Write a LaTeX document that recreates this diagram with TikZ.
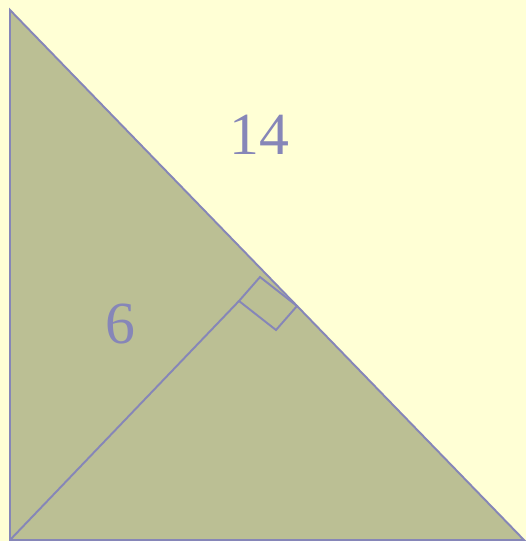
\documentclass[tikz,border=0pt]{standalone}
\usepackage{fontspec}
\setmainfont{Liberation Serif}
\definecolor{bgcolor}{RGB}{255, 255, 213}
\definecolor{trifill}{RGB}{187, 191, 148}
\definecolor{linecolor}{RGB}{134, 134, 184}

\begin{document}
\begin{tikzpicture}[x=0.02cm, y=-0.02cm,
    edge/.style={draw=linecolor, line width=1.1pt, line join=miter},
    lbl/.style={text=linecolor, font=\fontsize{34}{34}\selectfont, inner sep=0pt}]
    % Fond
    \fill[bgcolor] (0,0) rectangle (526,541);
    \useasboundingbox (0,0) rectangle (526,541);

    % Sommets du triangle
    \coordinate (A) at (10,10);
    \coordinate (C) at (10,540);
    \coordinate (B) at (524,540);
    \coordinate (H) at (239,301);

    % Triangle
    \draw[edge, fill=trifill] (A) -- (C) -- (B) -- cycle;

    % Hauteur et angle droit
    \draw[edge] (C) -- (H);
    \draw[edge] (H) -- ++(21,-24) -- ++(37,29) -- ++(-21,24) -- cycle;

    % Longueurs
    \node[lbl] (hyp) at (259,135) {14};
    \node[lbl] (alt) at (120,324) {6};
\end{tikzpicture}
\end{document}
